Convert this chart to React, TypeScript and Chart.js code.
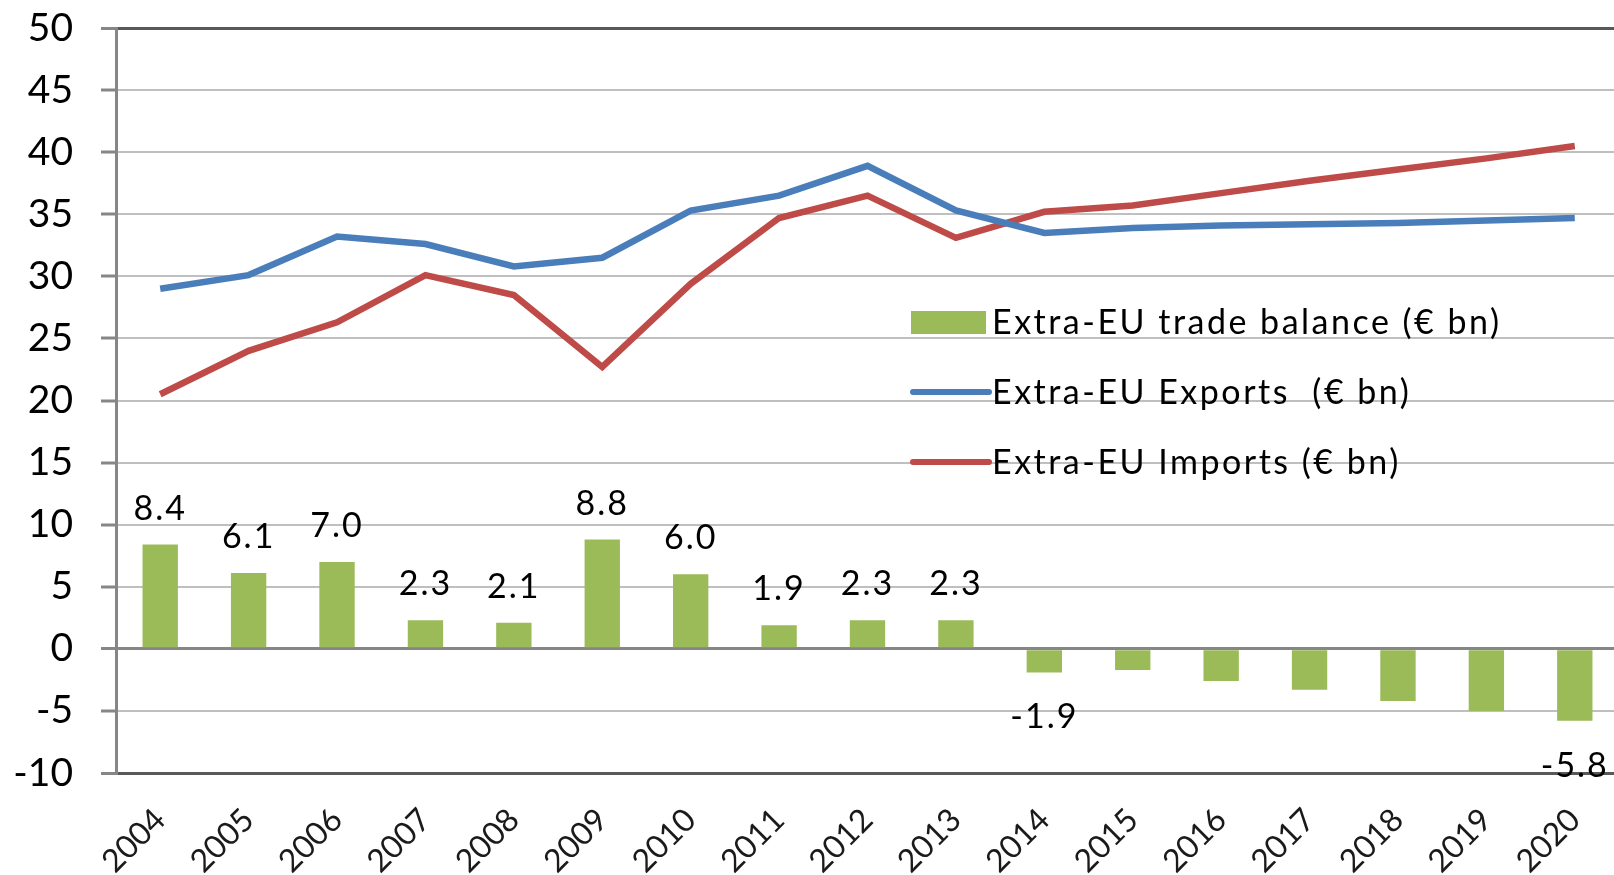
import React, { useEffect, useRef } from "react";
import { Chart, registerables } from "chart.js";

Chart.register(...registerables);

const years = ["2004", "2005", "2006", "2007", "2008", "2009", "2010", "2011", "2012", "2013", "2014", "2015", "2016", "2017", "2018", "2019", "2020"];
const tradeBalance = [8.4, 6.1, 7.0, 2.3, 2.1, 8.8, 6.0, 1.9, 2.3, 2.3, -1.9, -1.7, -2.6, -3.3, -4.2, -5.0, -5.8];
const balanceLabelShown = [true, true, true, true, true, true, true, true, true, true, true, false, false, false, false, false, true];
const exportsValues = [29.0, 30.1, 33.2, 32.6, 30.8, 31.5, 35.3, 36.5, 38.9, 35.3, 33.5, 33.9, 34.1, 34.2, 34.3, 34.5, 34.7];
const importsValues = [20.5, 24.0, 26.3, 30.1, 28.5, 22.7, 29.4, 34.7, 36.5, 33.1, 35.2, 35.7, 36.7, 37.7, 38.6, 39.5, 40.5];
const seriesNames = ["Extra-EU trade balance (€ bn)", "Extra-EU Exports  (€ bn)", "Extra-EU Imports (€ bn)"];
const yMin = -10;
const yMax = 50;
const yStep = 5;

const GREEN = "#9BBB59";
const BLUE = "#4A7EBB";
const RED = "#BE4B48";
const FONT = "Lato";

const barLabelsPlugin = {
  id: "barLabels",
  afterDatasetsDraw(chart: any) {
    const meta = chart.getDatasetMeta(0);
    const ctx = chart.ctx;
    ctx.save();
    ctx.font = `34px ${FONT}`;
    (ctx as any).letterSpacing = "2px";
    ctx.fillStyle = "#000";
    ctx.textAlign = "center";
    ctx.textBaseline = "middle";
    meta.data.forEach((el: any, i: number) => {
      if (!balanceLabelShown[i]) return;
      const v = tradeBalance[i];
      const y = v >= 0 ? el.y - 36 : el.y + 45;
      ctx.fillText(v.toFixed(1), el.x, y);
    });
    ctx.restore();
  },
};

const customLegendPlugin = {
  id: "customLegend",
  afterDraw(chart: any) {
    const ctx = chart.ctx;
    const ds = chart.data.datasets;
    const x0 = 911;
    const rows = [322, 392, 462];
    ctx.save();
    ctx.font = `34px ${FONT}`;
    (ctx as any).letterSpacing = "2.5px";
    ctx.textAlign = "left";
    ctx.textBaseline = "middle";
    ds.forEach((d: any, i: number) => {
      const y = rows[i];
      if (d.type === "bar") {
        ctx.fillStyle = d.backgroundColor;
        ctx.fillRect(x0, y - 11, 75, 23);
      } else {
        ctx.strokeStyle = d.borderColor;
        ctx.lineWidth = 6;
        ctx.lineCap = "round";
        ctx.beginPath();
        ctx.moveTo(x0 + 2, y);
        ctx.lineTo(x0 + 78, y);
        ctx.stroke();
      }
      ctx.fillStyle = "#000";
      ctx.fillText(d.label, x0 + 81, y + 1);
    });
    ctx.restore();
  },
};

export default function App() {
  const ref = useRef<HTMLCanvasElement>(null);

  useEffect(() => {
    const chart = new Chart(ref.current as HTMLCanvasElement, {
      type: "bar",
      data: {
        labels: years,
        datasets: [
          {
            type: "bar",
            label: seriesNames[0],
            data: tradeBalance,
            backgroundColor: GREEN,
            borderWidth: 0,
            categoryPercentage: 1,
            barPercentage: 0.4,
            order: 3,
          } as any,
          {
            type: "line",
            label: seriesNames[1],
            data: exportsValues,
            borderColor: BLUE,
            borderWidth: 6.5,
            pointRadius: 0,
            tension: 0,
            fill: false,
            order: 1,
          },
          {
            type: "line",
            label: seriesNames[2],
            data: importsValues,
            borderColor: RED,
            borderWidth: 6.5,
            pointRadius: 0,
            tension: 0,
            fill: false,
            order: 2,
          },
        ],
      },
      options: {
        responsive: false,
        animation: false,
        devicePixelRatio: 1,
        layout: { padding: { top: 28, right: 3, left: 0, bottom: 0 } },
        plugins: {
          legend: { display: false },
          tooltip: { enabled: false },
        },
        scales: {
          x: {
            grid: { display: false },
            border: { display: true, color: "#595959", width: 3 },
            ticks: {
              maxRotation: 45,
              minRotation: 45,
              color: "#1a1a1a",
              font: { family: FONT, size: 32 },
              padding: 20,
            },
            afterFit: (s: any) => {
              s.height = 102;
              s.paddingLeft = 0;
              s.paddingRight = 0;
            },
          },
          y: {
            min: yMin,
            max: yMax,
            ticks: {
              stepSize: yStep,
              color: "#000",
              font: { family: FONT, size: 39 },
              padding: 28,
            },
            grid: {
              color: (c: any) => {
                const v = c.tick ? c.tick.value : 0;
                if (v === yMax || v === yMin) return "#595959";
                if (v === 0) return "#868686";
                return "#BFBFBF";
              },
              lineWidth: (c: any) => {
                const v = c.tick ? c.tick.value : 0;
                if (v === yMax || v === yMin || v === 0) return 3;
                return 2;
              },
              tickLength: 15,
              tickColor: "#868686",
              tickWidth: 3,
            },
            border: { display: true, color: "#868686", width: 3 },
            afterFit: (s: any) => {
              s.width = 116;
              s.paddingTop = 0;
              s.paddingBottom = 0;
            },
          },
        },
      },
      plugins: [barLabelsPlugin, customLegendPlugin],
    });
    return () => chart.destroy();
  }, []);

  return (
    <div
      style={{
        position: "fixed",
        left: 0,
        top: 0,
        width: 1614,
        height: 875,
        overflow: "hidden",
        background: "#fff",
      }}
    >
      <canvas ref={ref} width={1622} height={875} style={{ display: "block", width: 1622, height: 875 }} />
    </div>
  );
}
